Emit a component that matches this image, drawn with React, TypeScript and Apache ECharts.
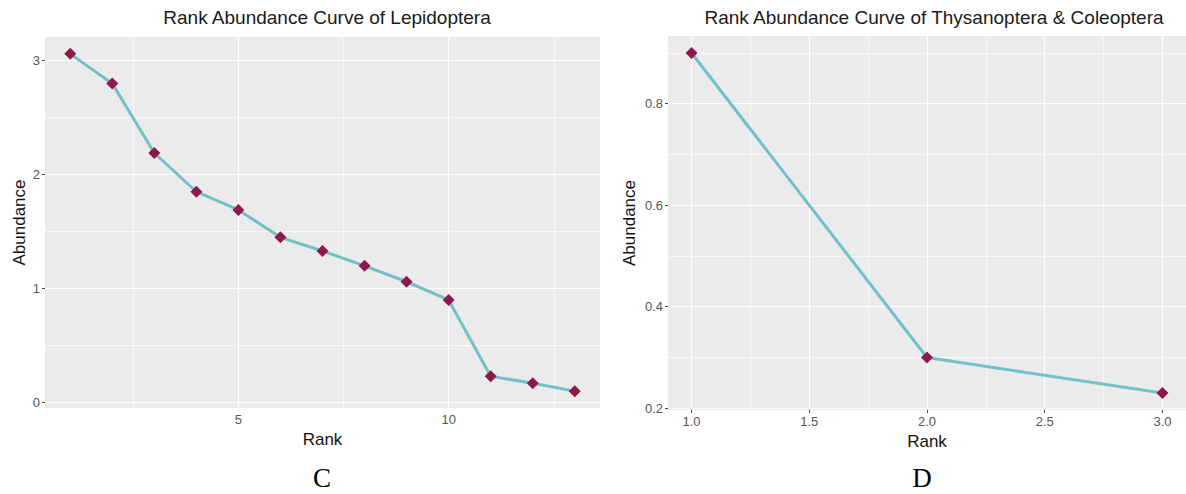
import React, { useEffect, useRef } from "react";
import * as echarts from "echarts";

// Panel C: Lepidoptera
const rankC = [1, 2, 3, 4, 5, 6, 7, 8, 9, 10, 11, 12, 13];
const abundanceC = [3.06, 2.8, 2.19, 1.85, 1.69, 1.45, 1.33, 1.2, 1.06, 0.9, 0.23, 0.17, 0.1];
const xTicksC = [5, 10];
const xMinorC = [2.5, 7.5, 12.5];
const yTicksC = [0, 1, 2, 3];
const yMinorC = [0.5, 1.5, 2.5];

// Panel D: Thysanoptera & Coleoptera
const rankD = [1, 2, 3];
const abundanceD = [0.9, 0.3, 0.23];
const xTicksD = [1, 1.5, 2, 2.5, 3];
const xMinorD = [1.25, 1.75, 2.25, 2.75];
const yTicksD = [0.2, 0.4, 0.6, 0.8];
const yMinorD = [0.3, 0.5, 0.7, 0.9];

const titleC = "Rank Abundance Curve of Lepidoptera";
const titleD = "Rank Abundance Curve of Thysanoptera & Coleoptera";

const LINE_COLOR = "#72C1C9";
const POINT_COLOR = "#8B1A4B";
const PANEL_BG = "#EBEBEB";
const SANS = "'Liberation Sans', Arial, sans-serif";
const SERIF = "'Liberation Serif', 'Times New Roman', serif";

function expand(vals: number[]) {
  const lo = Math.min(...vals);
  const hi = Math.max(...vals);
  const pad = (hi - lo) * 0.05;
  return [lo - pad, hi + pad];
}

function gridLines(idx: number, xMajor: number[], xMinor: number[], yMajor: number[], yMinor: number[]) {
  const mk = (vals: number[], key: string, width: number) =>
    vals.map((v) => ({ [key]: v, lineStyle: { color: "#FFFFFF", width, type: "solid" } }));
  return {
    type: "line",
    xAxisIndex: idx,
    yAxisIndex: idx,
    data: [],
    silent: true,
    z: 1,
    markLine: {
      silent: true,
      z: 1,
      animation: false,
      symbol: ["none", "none"],
      label: { show: false },
      emphasis: { disabled: true },
      data: [
        ...mk(xMinor, "xAxis", 0.6),
        ...mk(yMinor, "yAxis", 0.6),
        ...mk(xMajor, "xAxis", 1.2),
        ...mk(yMajor, "yAxis", 1.2),
      ],
    },
  };
}

export default function App() {
  const ref = useRef<HTMLDivElement>(null);

  useEffect(() => {
    if (!ref.current) return;
    const chart = echarts.init(ref.current, undefined, { renderer: "svg" });

    const [xMinC, xMaxC] = expand(rankC);
    const [yMinC, yMaxC] = expand(abundanceC);
    const [xMinD, xMaxD] = expand(rankD);
    const [yMinD, yMaxD] = expand(abundanceD);

    const tickLabel = { color: "#555555", fontSize: 13, fontFamily: SANS };
    const axisName = { color: "#111111", fontSize: 17, fontFamily: SANS };

    const makeX = (idx: number, min: number, max: number, ticks: number[], fmt: (v: number) => string) => ({
      type: "value",
      gridIndex: idx,
      min,
      max,
      name: "Rank",
      nameLocation: "middle",
      nameGap: 20,
      nameTextStyle: axisName,
      axisLine: { show: false },
      splitLine: { show: false },
      axisTick: { show: true, length: 3, lineStyle: { color: "#444444", width: 1 }, customValues: ticks },
      axisLabel: { ...tickLabel, margin: 5, customValues: ticks, formatter: (v: number) => fmt(v) },
    });
    const makeY = (idx: number, min: number, max: number, ticks: number[], gap: number, fmt: (v: number) => string) => ({
      type: "value",
      gridIndex: idx,
      min,
      max,
      name: "Abundance",
      nameLocation: "middle",
      nameGap: gap,
      nameRotate: 90,
      nameTextStyle: axisName,
      axisLine: { show: false },
      splitLine: { show: false },
      axisTick: { show: true, length: 3, lineStyle: { color: "#444444", width: 1 }, customValues: ticks },
      axisLabel: { ...tickLabel, margin: 5, customValues: ticks, formatter: (v: number) => fmt(v) },
    });

    const dataSeries = (idx: number, xs: number[], ys: number[]) => ({
      type: "line",
      xAxisIndex: idx,
      yAxisIndex: idx,
      data: xs.map((x, i) => [x, ys[i]]),
      z: 3,
      lineStyle: { color: LINE_COLOR, width: 3 },
      symbol: "diamond",
      symbolSize: 12,
      itemStyle: { color: POINT_COLOR },
      showSymbol: true,
      clip: false,
    });

    chart.setOption({
      animation: false,
      backgroundColor: "#FFFFFF",
      title: [
        {
          text: titleC,
          left: 322,
          top: 3,
          textAlign: "center",
          textStyle: { color: "#1A1A1A", fontSize: 19, fontWeight: "normal", fontFamily: SANS },
        },
        {
          text: titleD,
          left: 929,
          top: 3,
          textAlign: "center",
          textStyle: { color: "#1A1A1A", fontSize: 19, fontWeight: "normal", fontFamily: SANS },
        },
      ],
      grid: [
        { left: 45, right: 586, top: 37, bottom: 86, show: true, backgroundColor: PANEL_BG, borderWidth: 0 },
        { left: 668, right: -5, top: 36, bottom: 84, show: true, backgroundColor: PANEL_BG, borderWidth: 0 },
      ],
      xAxis: [
        makeX(0, xMinC, xMaxC, xTicksC, (v) => String(v)),
        makeX(1, xMinD, xMaxD, xTicksD, (v) => v.toFixed(1)),
      ],
      yAxis: [
        makeY(0, yMinC, yMaxC, yTicksC, 17, (v) => String(v)),
        makeY(1, yMinD, yMaxD, yTicksD, 30, (v) => v.toFixed(1)),
      ],
      graphic: [
        {
          type: "text",
          x: 322,
          y: 478,
          style: { text: "C", font: `27px ${SERIF}`, fill: "#000000", align: "center", verticalAlign: "middle" },
        },
        {
          type: "text",
          x: 922,
          y: 478,
          style: { text: "D", font: `27px ${SERIF}`, fill: "#000000", align: "center", verticalAlign: "middle" },
        },
      ],
      series: [
        gridLines(0, xTicksC, xMinorC, yTicksC, yMinorC),
        gridLines(1, xTicksD, xMinorD, yTicksD, yMinorD),
        dataSeries(0, rankC, abundanceC),
        dataSeries(1, rankD, abundanceD),
      ],
    });

    return () => chart.dispose();
  }, []);

  return (
    <div
      ref={ref}
      style={{ position: "absolute", left: 0, top: 0, width: 1186, height: 494 }}
    />
  );
}
